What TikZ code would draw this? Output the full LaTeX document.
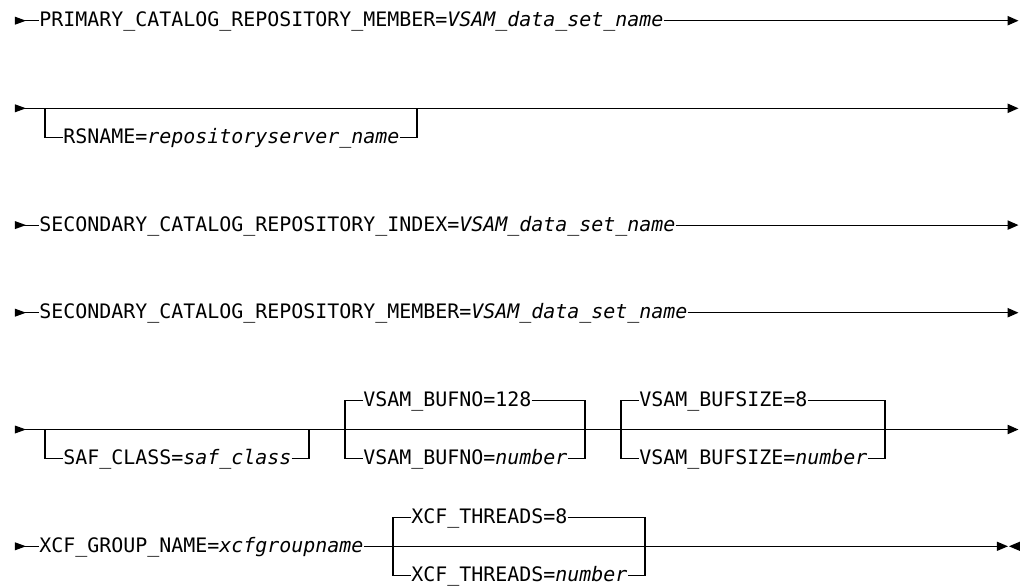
\documentclass[tikz,border=0pt]{standalone}
\usepackage{fontspec}
\newfontfamily\railfont{DejaVu Sans Mono}
\usetikzlibrary{arrows.meta}

\begin{document}
\begin{tikzpicture}[
        x=9pt, y=-21.9pt,
        rail/.style={line width=0.9pt},
        tail/.style={rail, -{Triangle[length=8.25pt, width=7pt]}},
        kw/.style={inner sep=0pt, anchor=west, text height=11pt, text depth=2pt,
            font=\railfont\fontsize{14.95}{18}\selectfont},
        begmark/.pic={\fill (0pt,3pt) -- (8.25pt,0pt) -- (0pt,-3pt) -- cycle;},
        stopmark/.pic={\fill (0pt,3.5pt) -- (8.25pt,0pt) -- (0pt,-3.5pt) -- cycle;
            \fill (17.25pt,3.5pt) -- (9pt,0pt) -- (17.25pt,-3.5pt) -- cycle;}
    ]
        \useasboundingbox (-1.25,-0.709) rectangle (84.25,19.394);

        % Row 1: primary member
        \coordinate (r1s) at (0,0);
        \coordinate (r1e) at (83.625,0);
        \node[kw] (pcrm) at (2,0) {PRIMARY\_CATALOG\_REPOSITORY\_MEMBER=\textit{VSAM\_data\_set\_name}};
        \pic at (r1s) {begmark};
        \draw[rail] (r1s) -- (pcrm.west);
        \draw[tail] (pcrm.east) -- (r1e);

        % Row 2: optional RSNAME
        \coordinate (r2s) at (0,3);
        \coordinate (r2e) at (83.625,3);
        \coordinate (rsL) at (2.5,3);
        \coordinate (rsR) at (33.5,3);
        \node[kw] (rsname) at (4,4) {RSNAME=\textit{repositoryserver\_name}};
        \pic at (r2s) {begmark};
        \draw[tail] (r2s) -- (r2e);
        \draw[rail] (rsL) |- (rsname.west);
        \draw[rail] (rsname.east) -| (rsR);

        % Row 3: secondary index
        \coordinate (r3s) at (0,7);
        \coordinate (r3e) at (83.625,7);
        \node[kw] (scri) at (2,7) {SECONDARY\_CATALOG\_REPOSITORY\_INDEX=\textit{VSAM\_data\_set\_name}};
        \pic at (r3s) {begmark};
        \draw[rail] (r3s) -- (scri.west);
        \draw[tail] (scri.east) -- (r3e);

        % Row 4: secondary member
        \coordinate (r4s) at (0,10);
        \coordinate (r4e) at (83.625,10);
        \node[kw] (scrm) at (2,10) {SECONDARY\_CATALOG\_REPOSITORY\_MEMBER=\textit{VSAM\_data\_set\_name}};
        \pic at (r4s) {begmark};
        \draw[rail] (r4s) -- (scrm.west);
        \draw[tail] (scrm.east) -- (r4e);

        % Row 5: SAF class and VSAM buffers
        \coordinate (r5s) at (0,14);
        \coordinate (r5e) at (83.625,14);
        \pic at (r5s) {begmark};
        \draw[tail] (r5s) -- (r5e);

        \coordinate (safL) at (2.5,14);
        \coordinate (safR) at (24.5,14);
        \node[kw] (saf) at (4,15) {SAF\_CLASS=\textit{saf\_class}};
        \draw[rail] (safL) |- (saf.west);
        \draw[rail] (saf.east) -| (safR);

        \coordinate (bufnoL) at (27.5,14);
        \coordinate (bufnoR) at (47.5,14);
        \node[kw] (bufno) at (29,13) {VSAM\_BUFNO=128};
        \node[kw] (bufnonum) at (29,15) {VSAM\_BUFNO=\textit{number}};
        \draw[rail] (bufno.west) -| (bufnoL) |- (bufnonum.west);
        \draw[rail] (bufno.east) -| (bufnoR) |- (bufnonum.east);

        \coordinate (bufszL) at (50.5,14);
        \coordinate (bufszR) at (72.5,14);
        \node[kw] (bufsz) at (52,13) {VSAM\_BUFSIZE=8};
        \node[kw] (bufsznum) at (52,15) {VSAM\_BUFSIZE=\textit{number}};
        \draw[rail] (bufsz.west) -| (bufszL) |- (bufsznum.west);
        \draw[rail] (bufsz.east) -| (bufszR) |- (bufsznum.east);

        % Row 6: XCF group and threads
        \coordinate (r6s) at (0,18);
        \coordinate (r6e) at (81.83,18);
        \node[kw] (xcfgrp) at (2,18) {XCF\_GROUP\_NAME=\textit{xcfgroupname}};
        \pic at (r6s) {begmark};
        \draw[rail] (r6s) -- (xcfgrp.west);
        \draw[rail] (xcfgrp.east) -- (r6e);
        \pic at (r6e) {stopmark};

        \coordinate (xcfL) at (31.5,18);
        \coordinate (xcfR) at (52.5,18);
        \node[kw] (xcfthr) at (33,17) {XCF\_THREADS=8};
        \node[kw] (xcfthrnum) at (33,19) {XCF\_THREADS=\textit{number}};
        \draw[rail] (xcfthr.west) -| (xcfL) |- (xcfthrnum.west);
        \draw[rail] (xcfthr.east) -| (xcfR) |- (xcfthrnum.east);
    \end{tikzpicture}
\end{document}
